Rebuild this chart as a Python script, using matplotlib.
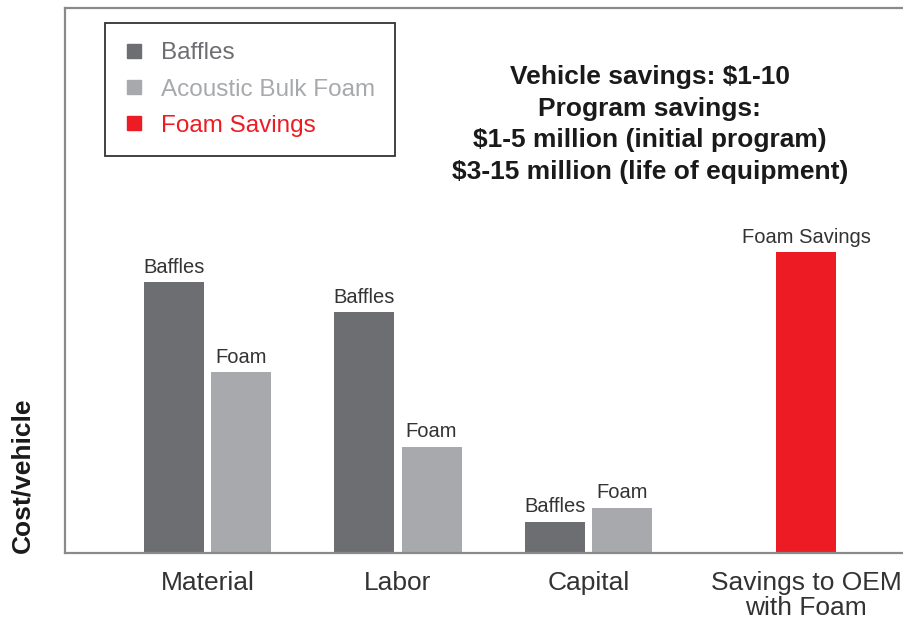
import matplotlib.pyplot as plt
import numpy as np
from matplotlib.lines import Line2D

categories = ["Material", "Labor", "Capital", "Savings to OEM\nwith Foam"]
baffles = [49.7, 44.2, 5.7]
foam = [33.2, 19.5, 8.3]
savings = 55.2

c_baffles = "#6d6e71"
c_foam = "#a7a9ac"
c_red = "#ed1c24"

plt.rcParams['font.family'] = ['Liberation Sans', 'DejaVu Sans']

fig = plt.figure(figsize=(9.04, 6.23), dpi=100)
ax = fig.add_axes([65/904, 1-553/623, 1-65/904, 545/623])

x = np.arange(3)
w = 0.315
gap = 0.037
off = (w + gap) / 2
sx = 3.142
b1 = ax.bar(x - off, baffles, w, color=c_baffles)
b2 = ax.bar(x + off, foam, w, color=c_foam)
b3 = ax.bar([sx], [savings], w, color=c_red)

def label(bars, txt):
    for r in bars:
        ax.annotate(txt, (r.get_x() + r.get_width()/2, r.get_height()),
                    xytext=(0, 4), textcoords='offset points',
                    ha='center', va='bottom', fontsize=14.5,
                    color='#333333')

label(b1, "Baffles")
label(b2, "Foam")
label(b3, "Foam Savings")

ax.set_xlim(-0.748, 3.656)
ax.set_ylim(0, 100)
ax.set_xticks([0, 1, 2, sx])
ax.set_xticklabels(categories, fontsize=19, color='#333333', linespacing=1.05)
ax.tick_params(axis='x', length=0, pad=13)
ax.set_yticks([])
for s in ['left', 'bottom', 'top']:
    ax.spines[s].set_color('#8a8a8a')
    ax.spines[s].set_linewidth(1.6)
ax.spines['right'].set_visible(False)

fig.text(22/904, 1-475/623, "Cost/vehicle", rotation=90, ha='center', va='center',
         fontsize=19, fontweight='bold', color='#1a1a1a')

ax.text(0.697, 0.786, "Vehicle savings: $1-10\nProgram savings:\n$1-5 million (initial program)\n$3-15 million (life of equipment)",
        transform=ax.transAxes, ha='center', va='center', fontsize=19,
        fontweight='bold', color='#1a1a1a', linespacing=1.4)

handles = [Line2D([], [], marker='s', ls='', color=c, markersize=10)
           for c in [c_baffles, c_foam, c_red]]
leg = ax.legend(handles, ["Baffles", "Acoustic Bulk Foam", "Foam Savings"],
                loc='upper left', bbox_to_anchor=(105/904, 1-23/623),
                bbox_transform=fig.transFigure, fontsize=17.5,
                labelcolor=[c_baffles, c_foam, c_red], fancybox=False,
                edgecolor='#333333', framealpha=1, borderpad=0.8,
                handletextpad=0.72, labelspacing=0.58, borderaxespad=0,
                handlelength=0.8)
leg.get_frame().set_linewidth(1.3)

fig.savefig("out.png", dpi=100)
